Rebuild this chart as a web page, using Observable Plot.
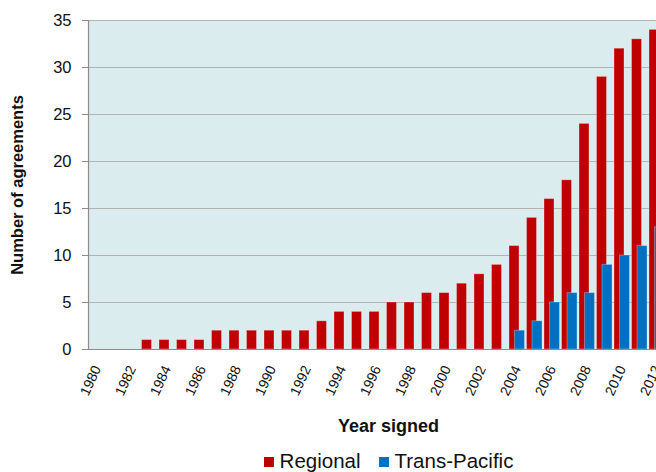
<!DOCTYPE html>
<html>
<head>
<meta charset="utf-8">
<script src="https://cdn.jsdelivr.net/npm/d3@7"></script>
<script src="https://cdn.jsdelivr.net/npm/@observablehq/plot@0.6"></script>
<style>
  body { margin: 0; background: #fff; font-family: "Liberation Sans", Arial, sans-serif; overflow: hidden; }
  #chart { width: 656px; overflow: hidden; }
  #xlabel { width: 656px; margin-top: 6px; line-height: 20px; font-size: 18px; font-weight: bold; color: #111; box-sizing: border-box; padding-left: 121px; text-align: center; }
  #legend { width: 656px; margin-top: 14px; line-height: 22px; font-size: 20.5px; color: #111; box-sizing: border-box; padding-left: 121px; display: flex; justify-content: center; align-items: center; gap: 18px; }
  .sw { display: inline-block; width: 10px; height: 10px; margin-right: 6px; vertical-align: 1px; }
</style>
</head>
<body>
<div id="chart"></div>
<div id="xlabel">Year signed</div>
<div id="legend"></div>
<script>
const years = d3.range(1980, 2013);
const regional = [0,0,0,1,1,1,1,2,2,2,2,2,2,3,4,4,4,5,5,6,6,7,8,9,11,14,16,18,24,29,32,33,34];
const transPacific = [0,0,0,0,0,0,0,0,0,0,0,0,0,0,0,0,0,0,0,0,0,0,0,0,2,3,5,6,6,9,10,11,13];
const seriesNames = ["Regional", "Trans-Pacific"];
const seriesColors = ["#c00000", "#0070c0"];
const yTicks = [0,5,10,15,20,25,30,35];
const xTickYears = years.filter(y => y % 2 === 0);

const regData = years.map((y, i) => ({year: y, value: regional[i]}));
const tpData = years.map((y, i) => ({year: y, value: transPacific[i]})).filter(d => d.value > 0);

const chart = Plot.plot({
  width: 656,
  height: 410,
  marginTop: 20,
  marginBottom: 61,
  marginLeft: 88,
  marginRight: 0,
  style: {fontFamily: "Liberation Sans, Arial, sans-serif", fontSize: "13px", color: "#111", background: "#fff", overflow: "hidden"},
  x: {type: "band", domain: years, range: [88, 665.5], round: false, paddingInner: 0.4286, paddingOuter: 0.2143},
  y: {domain: [0, 35]},
  marks: [
    Plot.frame({fill: "#daecee", stroke: null}),
    Plot.gridY(yTicks, {stroke: "#b3b3b3", strokeOpacity: 1, strokeWidth: 1}),
    Plot.barY(regData, {x: "year", y: "value", fill: seriesColors[0], dx: -2.75, stroke: "#fff", strokeOpacity: 0.3, strokeWidth: 1}),
    Plot.barY(tpData, {x: "year", y: "value", fill: seriesColors[1], dx: 2.75, stroke: "#fff", strokeOpacity: 0.3, strokeWidth: 1}),
    Plot.ruleY([0], {stroke: "#8c8c8c", strokeWidth: 1.2}),
    Plot.frame({anchor: "left", stroke: "#8c8c8c", strokeWidth: 1.2}),
    Plot.axisY(yTicks, {tickSize: 6, tickPadding: 11, stroke: "#8c8c8c", fontSize: 16.5, label: "Number of agreements", labelAnchor: "center", labelOffset: 77, labelArrow: "none"}),
    Plot.axisX(xTickYears, {tickSize: 0, tickPadding: 17, tickRotate: -65, fontSize: 14, tickFormat: d => String(d), label: null})
  ]
});
document.getElementById("chart").appendChild(chart);
chart.querySelectorAll("[aria-label='y-axis label'] text").forEach(t => { t.setAttribute("font-weight", "bold"); t.setAttribute("font-size", "16.5"); });

const leg = document.getElementById("legend");
seriesNames.forEach((n, i) => {
  const s = document.createElement("span");
  s.innerHTML = `<span class="sw" style="background:${seriesColors[i]}"></span>${n}`;
  leg.appendChild(s);
});
</script>
</body>
</html>
